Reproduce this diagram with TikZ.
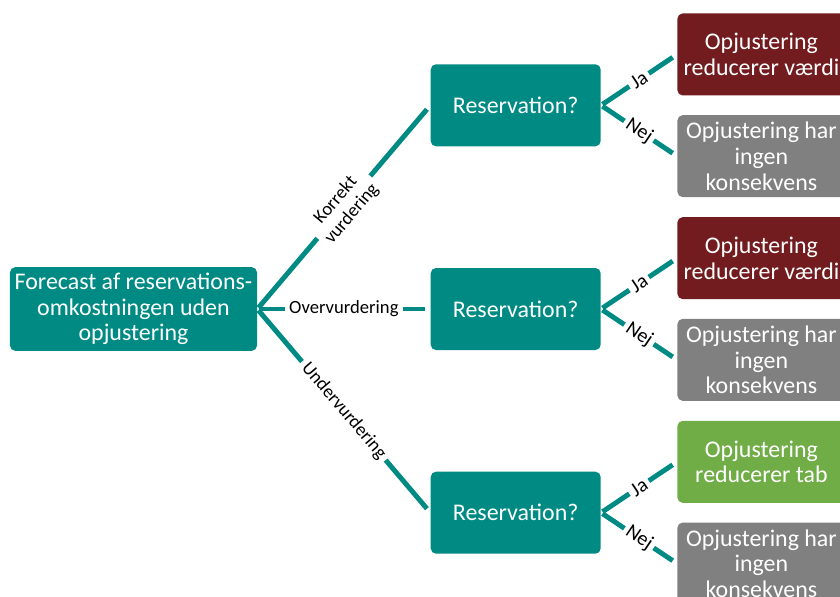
\documentclass[tikz,border=0pt]{standalone}
\usepackage{fontspec}
\setmainfont{Carlito}
\usetikzlibrary{positioning}
\definecolor{treeteal}{RGB}{0,138,132}
\definecolor{treered}{RGB}{114,28,31}
\definecolor{treegray}{RGB}{128,128,128}
\definecolor{treegreen}{RGB}{112,173,71}
\tikzset{
    treebox/.style={rectangle,rounded corners=3pt,text=white,align=center,minimum height=1.64cm,inner xsep=1pt,font=\fontsize{13.6}{14.6}\selectfont},
    treeroot/.style={treebox,fill=treeteal,minimum width=4.94cm},
    treequestion/.style={treebox,fill=treeteal,minimum width=3.4cm},
    treeyes/.style={treebox,fill=treered,minimum width=3.36cm},
    treeno/.style={treebox,fill=treegray,minimum width=3.36cm},
    treegain/.style={treebox,fill=treegreen,minimum width=3.36cm},
    treeline/.style={draw=treeteal,line width=2.8pt,shorten <=1pt,shorten >=3pt},
    treelabel/.style={fill=white,align=center,inner sep=2.5pt,font=\fontsize{10.6}{12}\selectfont},
    treeanswer/.style={fill=white,inner sep=2pt,font=\fontsize{11.5}{12}\selectfont}
}
\begin{document}
\begin{tikzpicture}
    \path[use as bounding box] (0,0) rectangle (16.8,-11.92);
    \clip (0,0) rectangle (16.8,-11.92);
    % left: forecast
    \node[treeroot] (root) at (2.67,-6.18) {Forecast af reservations-\\omkostningen uden\\opjustering};
    % middle: three questions
    \node[treequestion,right=3.46cm of root] (midq) {Reservation?};
    \node[treequestion,above=2.42cm of midq] (topq) {Reservation?};
    \node[treequestion,below=2.42cm of midq] (lowq) {Reservation?};
    % right: outcomes
    \node[treeyes,above right=0.19cm and 1.52cm of topq.east] (topja) {Opjustering\\reducerer værdi};
    \node[treeno,below right=0.19cm and 1.52cm of topq.east] (topnej) {Opjustering har\\ingen\\konsekvens};
    \node[treeyes,above right=0.19cm and 1.52cm of midq.east] (midja) {Opjustering\\reducerer værdi};
    \node[treeno,below right=0.19cm and 1.52cm of midq.east] (midnej) {Opjustering har\\ingen\\konsekvens};
    \node[treegain,above right=0.19cm and 1.52cm of lowq.east] (lowja) {Opjustering\\reducerer tab};
    \node[treeno,below right=0.19cm and 1.52cm of lowq.east] (lownej) {Opjustering har\\ingen\\konsekvens};
    % branches
    \draw[treeline] (root.east) -- node[treelabel,sloped]{Korrekt\\vurdering} (topq.west);
    \draw[treeline] (root.east) -- node[treelabel]{Overvurdering} (midq.west);
    \draw[treeline] (root.east) -- node[treelabel,sloped]{Undervurdering} (lowq.west);
    \draw[treeline] (topq.east) -- node[treeanswer,sloped]{Ja} (topja.west);
    \draw[treeline] (topq.east) -- node[treeanswer,sloped]{Nej} (topnej.west);
    \draw[treeline] (midq.east) -- node[treeanswer,sloped]{Ja} (midja.west);
    \draw[treeline] (midq.east) -- node[treeanswer,sloped]{Nej} (midnej.west);
    \draw[treeline] (lowq.east) -- node[treeanswer,sloped]{Ja} (lowja.west);
    \draw[treeline] (lowq.east) -- node[treeanswer,sloped]{Nej} (lownej.west);
\end{tikzpicture}
\end{document}
